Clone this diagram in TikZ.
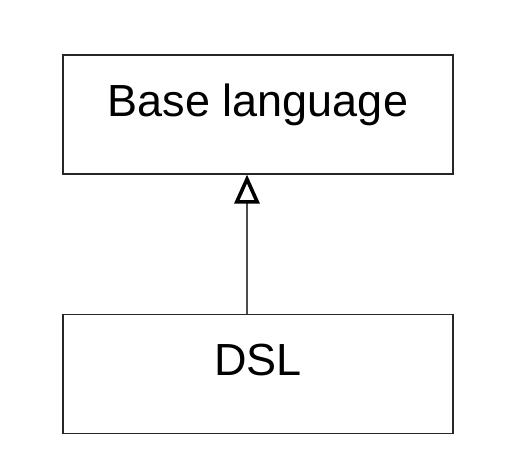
\documentclass[tikz,border=0pt]{standalone}
\usepackage{fontspec}
\setmainfont{Liberation Sans}
\usetikzlibrary{arrows.meta}
\begin{document}
\begin{tikzpicture}[x=1pt, y=-1pt,
    langbox/.style={draw=black!85, line width=1.3pt, minimum width=390pt, minimum height=119pt, inner sep=0pt, text height=20pt, text depth=16pt, font=\fontsize{45}{54}\selectfont},
    extends/.style={draw=black!70, line width=1.3pt, -{Triangle[open, length=29pt, width=25pt, line width=3.6pt, color=black]}}]
    \useasboundingbox (0,0) rectangle (523,476);
    \node[langbox] (base) at (258,114.5) {Base language};
    \node[langbox] (dsl) at (258,374) {DSL};
    \coordinate (axis) at (247,0);
    \draw[extends] (dsl.north -| axis) -- (base.south -| axis);
\end{tikzpicture}
\end{document}
